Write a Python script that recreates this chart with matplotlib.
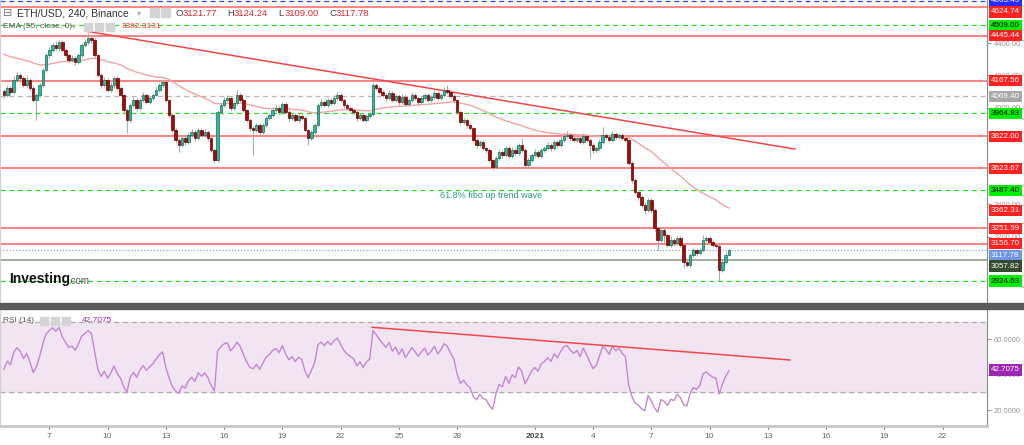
import numpy as np
import matplotlib
matplotlib.use('Agg')
import matplotlib.pyplot as plt
from matplotlib.patches import Rectangle
from matplotlib.transforms import blended_transform_factory

plt.rcParams['font.family'] = ['Liberation Sans', 'DejaVu Sans']

W, H = 1024, 445

# ---- data: ETH/USD 4h candles, day 0 = Dec 7, first candle Dec 4 16:00 ----
first_day = -2 - 2 / 6
first_open = 4100
closes = [
    4078, 4121, 4097, 4171, 4202, 4183, 4140, 4171, 4121, 4047,
    4078, 4140, 4233, 4326, 4357, 4388, 4369, 4407, 4357, 4326,
    4295, 4307, 4283, 4326, 4388, 4407, 4431, 4419, 4326, 4202,
    4140, 4171, 4109, 4140, 4183, 4121, 4078, 3985, 3923, 4016,
    4047, 3997, 4047, 4078, 4035, 4059, 4078, 4109, 4140, 4159,
    4047, 3954, 3861, 3799, 3768, 3811, 3787, 3830, 3849, 3811,
    3861, 3830, 3849, 3811, 3737, 3675, 3973, 4016, 4047, 4059,
    3997, 4028, 4078, 4047, 3985, 3923, 3873, 3861, 3892, 3849,
    3892, 3935, 3954, 3985, 3997, 3973, 4022, 3973, 3935, 3954,
    3923, 3948, 3935, 3861, 3811, 3849, 3892, 4016, 4035, 4016,
    4047, 4028, 4059, 4078, 4047, 4016, 3997, 3985, 3973, 3935,
    3954, 3923, 3948, 3960, 4140, 4121, 4097, 4078, 4059, 4090,
    4047, 4072, 4035, 4066, 4022, 4047, 4078, 4059, 4035, 4059,
    4078, 4047, 4066, 4090, 4059, 4078, 4109, 4097, 4072, 4047,
    3973, 3911, 3923, 3892, 3873, 3799, 3768, 3787, 3749, 3737,
    3675, 3632, 3687, 3725, 3706, 3749, 3700, 3737, 3718, 3768,
    3737, 3644, 3675, 3706, 3725, 3700, 3737, 3749, 3768, 3749,
    3787, 3768, 3799, 3824, 3830, 3811, 3799, 3811, 3787, 3824,
    3799, 3768, 3737, 3749, 3787, 3830, 3818, 3799, 3836, 3818,
    3830, 3811, 3799, 3656, 3551, 3477, 3446, 3396, 3365, 3427,
    3365, 3253, 3179, 3241, 3210, 3148, 3179, 3160, 3191, 3148,
    3043, 3024, 3086, 3117, 3098, 3117, 3179, 3191, 3167, 3148,
    3142, 2993, 3043, 3086, 3117.78,
]
wick_up = [
    15, 20, 12, 25, 18, 10, 15, 22, 10, 12,
    15, 10, 12, 15, 20, 18, 25, 12, 15, 10,
    12, 18, 15, 10, 15, 20, 31, 15, 10, 8,
    12, 18, 10, 20, 15, 12, 10, 8, 10, 15,
    20, 12, 15, 18, 10, 15, 12, 18, 15, 12,
    10, 8, 12, 10, 15, 12, 18, 15, 20, 10,
    15, 12, 18, 10, 8, 10, 12, 15, 18, 20,
    10, 15, 31, 12, 10, 8, 12, 10, 15, 12,
    10, 15, 12, 18, 20, 10, 15, 10, 12, 15,
    10, 12, 15, 10, 8, 12, 10, 15, 18, 12,
    15, 12, 18, 20, 10, 12, 10, 8, 12, 10,
    12, 10, 15, 12, 10, 15, 12, 10, 15, 18,
    12, 15, 10, 18, 12, 15, 20, 12, 10, 15,
    12, 10, 15, 18, 12, 15, 20, 31, 12, 10,
    8, 10, 15, 12, 10, 8, 12, 15, 10, 12,
    10, 8, 15, 20, 12, 15, 10, 18, 12, 15,
    43, 10, 12, 15, 18, 10, 15, 12, 18, 12,
    15, 12, 18, 20, 25, 12, 10, 15, 12, 18,
    12, 10, 15, 12, 18, 50, 15, 12, 20, 15,
    12, 15, 10, 8, 10, 12, 15, 12, 18, 15,
    12, 10, 15, 18, 12, 10, 25, 15, 12, 10,
    8, 12, 15, 10, 12, 15, 30, 15, 12, 10,
    12, 10, 15, 18, 6,
]
wick_dn = [
    18, 12, 20, 15, 10, 22, 15, 12, 20, 15,
    124, 12, 10, 15, 18, 12, 15, 20, 10, 15,
    18, 12, 20, 15, 10, 12, 15, 18, 12, 15,
    20, 12, 15, 10, 18, 12, 15, 20, 81, 12,
    15, 20, 12, 10, 15, 12, 10, 8, 12, 10,
    12, 15, 10, 18, 43, 15, 20, 12, 15, 18,
    12, 15, 10, 18, 15, 19, 12, 10, 15, 12,
    18, 12, 10, 15, 12, 15, 18, 155, 12, 20,
    15, 10, 12, 15, 10, 18, 12, 15, 20, 12,
    15, 18, 12, 15, 43, 12, 15, 10, 12, 15,
    12, 15, 10, 12, 15, 18, 12, 15, 12, 18,
    15, 12, 10, 15, 12, 10, 15, 12, 18, 10,
    15, 12, 18, 10, 15, 12, 10, 15, 18, 12,
    10, 15, 12, 10, 15, 12, 10, 12, 15, 18,
    12, 15, 10, 18, 12, 15, 20, 12, 15, 18,
    15, 19, 12, 15, 18, 10, 15, 12, 15, 10,
    12, 15, 18, 10, 12, 15, 10, 12, 15, 18,
    12, 15, 10, 12, 15, 18, 12, 10, 15, 12,
    15, 81, 18, 12, 15, 10, 12, 15, 10, 12,
    15, 12, 10, 15, 18, 12, 20, 15, 25, 12,
    18, 20, 62, 15, 60, 12, 15, 18, 12, 15,
    38, 15, 12, 15, 18, 12, 10, 12, 15, 12,
    15, 68, 12, 10, 8,
]
ema_start = 4340
ema_last = 3362.31
rsi_last = 42.7075

tick_days = [0, 3, 6, 9, 12, 15, 18, 21, 25, 28, 31, 34, 37, 40, 43, 46]
tick_labels = ['7', '10', '13', '16', '19', '22', '25', '28', '2021',
               '4', '7', '10', '13', '16', '19', '22']
price_ticks = [3200, 3400, 4000, 4200, 4400]
rsi_ticks = [20, 40, 60]

levels = [4663.49, 4624.74, 4509.00, 4445.44, 4167.56, 4069.40, 3964.83, 3822.00,
          3623.67, 3487.40, 3251.59, 3156.70, 3117.78, 3057.82, 2924.63]
level_kinds = ['blue', 'red', 'green', 'red', 'red', 'gray', 'green', 'red',
               'red', 'green', 'red', 'red', 'price', 'olive', 'green']

trend_days = [1.99, 38.4]
trend_prices = [4472, 3743]
rsi_trend_days = [16.62, 38.14]
rsi_trend_vals = [66.8, 48.3]
fibo_day, fibo_price = 20.1, 3452

# ---- derived series ----
n = len(closes)
x = first_day + np.arange(n) / 6
c = np.array(closes, dtype=float)
o = np.array([first_open] + closes[:-1], dtype=float)
hi = np.maximum(o, c) + np.array(wick_up)
lo = np.minimum(o, c) - np.array(wick_dn)

ema = []
e = ema_start
for cl in closes:
    e += 2 / 56 * (cl - e)
    ema.append(e)

rsi = []
g, l, prev = 18.0, 22.0, first_open
for cl in closes:
    d = cl - prev
    g = (g * 13 + max(d, 0)) / 14
    l = (l * 13 + max(-d, 0)) / 14
    rsi.append(100 - 100 / (1 + g / l))
    prev = cl

# ---- layout helpers ----
def fx(px):
    return px / W

def fy(py):
    return 1 - py / H

XLIM = (-2.54, 48.29)
PTOP, PPX = 4667.05, 6.2          # price at top pixel, price per pixel
MAIN_BOTTOM = 302

fig = plt.figure(figsize=(W / 100, H / 100), dpi=100)
fig.patch.set_facecolor('white')

ax = fig.add_axes([0, fy(MAIN_BOTTOM), fx(987), MAIN_BOTTOM / H])
ax.set_xlim(*XLIM)
ax.set_ylim(PTOP - PPX * MAIN_BOTTOM, PTOP)

line_style = {
    'red': dict(color='#ff6060', lw=1.1, ls='-'),
    'green': dict(color='#22dd22', lw=0.9, ls=(0, (4, 3))),
    'gray': dict(color='#b8b8b8', lw=0.9, ls=(0, (4, 3))),
    'blue': dict(color='#3344ff', lw=0.9, ls=(0, (4, 3))),
    'price': dict(color='#8aa2ea', lw=0.9, ls=(0, (1, 1.5))),
    'olive': dict(color='#9fae98', lw=1.4, ls='-'),
}
box_style = {
    'red': ('#ff2020', 'white'),
    'green': ('#00f000', 'black'),
    'gray': ('#a9a9a9', 'white'),
    'blue': ('#2a2aff', 'white'),
    'price': ('#6f95e6', 'white'),
    'olive': ('#354b30', 'white'),
}
label_shift_px = {4624.74: 5, 3117.78: 6, 3057.82: 6.5}

for lv, kind in zip(levels, level_kinds):
    ax.axhline(lv, zorder=1, **line_style[kind])

# trend line and EMA
ax.plot(trend_days, trend_prices, color='#f04848', lw=1.1, zorder=2)
ax.plot(x, ema, color='#f5a3a3', lw=1.0, zorder=2)

# candles
up = c >= o
body = np.maximum(np.abs(c - o), 4)
ax.vlines(x, lo, hi, color='#9db3a3', lw=0.8, zorder=3)
ax.bar(x[up], body[up], bottom=o[up], width=0.13, color='#2ab8a8',
       edgecolor='#1d6b4c', lw=0.5, zorder=4)
ax.bar(x[~up], body[~up], bottom=c[~up], width=0.13, color='#a00c0c',
       edgecolor='#6e0000', lw=0.5, zorder=4)

ax.text(fibo_day, fibo_price, '61.8% fibo up trend wave', color='#2a9d80',
        fontsize=6.5, ha='left', va='center', zorder=5)

# right axis
ax.yaxis.tick_right()
ax.set_yticks(price_ticks)
ax.set_yticklabels(['%.2f' % v for v in price_ticks])
ax.tick_params(axis='y', labelsize=5.5, colors='#999999', length=3, pad=2)
ax.set_xticks([])
for s in ['top', 'bottom']:
    ax.spines[s].set_visible(False)
ax.spines['right'].set_color('#8a8a8a')
ax.spines['left'].set_color('#d0d0d0')

trans = blended_transform_factory(ax.transAxes, ax.transData)

def right_label(axis, tr, yv, txt, fc, tc):
    axis.text(1.004, yv, txt, transform=tr, fontsize=5.8, color=tc, ha='left',
              va='center', clip_on=False, zorder=10,
              bbox=dict(boxstyle='square,pad=0.28', fc=fc, ec='none'))

for lv, kind in zip(levels, level_kinds):
    fc, tc = box_style[kind]
    yv = lv - label_shift_px.get(lv, 0) * PPX
    right_label(ax, trans, yv, '%.2f' % lv, fc, tc)
right_label(ax, trans, ema_last, '%.2f' % ema_last, '#ff2020', 'white')

# ---- RSI panel ----
rax = fig.add_axes([0, fy(426), fx(987), 117 / H])
rax.set_xlim(*XLIM)
rax.set_ylim(10.95, 77.14)
rax.axhspan(30, 70, color='#f2e5f2', zorder=0)
rax.axhline(70, color='#aaaaaa', lw=0.9, ls=(0, (4, 3)))
rax.axhline(30, color='#aaaaaa', lw=0.9, ls=(0, (4, 3)))
rax.plot(x, rsi, color='#c585d3', lw=1.0, zorder=3)
rax.plot(rsi_trend_days, rsi_trend_vals, color='#f04848', lw=1.1, zorder=4)

rax.yaxis.tick_right()
rax.set_yticks(rsi_ticks)
rax.set_yticklabels(['%.4f' % v for v in rsi_ticks])
rax.tick_params(axis='y', labelsize=5.5, colors='#999999', length=3, pad=2)
rax.set_xticks(tick_days)
rax.set_xticklabels(tick_labels)
rax.tick_params(axis='x', labelsize=6, colors='#666666', length=2, pad=3)
rax.get_xticklabels()[8].set_fontweight('bold')
rax.get_xticklabels()[8].set_color('#444444')
rax.spines['top'].set_visible(False)
rax.spines['right'].set_color('#8a8a8a')
rax.spines['left'].set_color('#d0d0d0')
rax.spines['bottom'].set_color('#c8c8c8')
rax.spines['bottom'].set_linewidth(2)
rtrans = blended_transform_factory(rax.transAxes, rax.transData)
right_label(rax, rtrans, rsi_last, '%.4f' % rsi_last, '#9c27b0', 'white')

# separator band
fig.add_artist(Rectangle((0, fy(309)), 1, 6 / H, transform=fig.transFigure,
                         color='#5a5a5a', zorder=5))

# ---- header texts ----
def icon(px, py, size=9):
    fig.add_artist(Rectangle((fx(px), fy(py + size)), size / W, size / H,
                             transform=fig.transFigure, color='#d4d4d4', zorder=6))

fig.text(fx(3), fy(13), '⊟', fontsize=8, color='#777777', va='center',
         family='DejaVu Sans', zorder=7)
fig.text(fx(17), fy(13), 'ETH/USD, 240, Binance', fontsize=7.5, color='#333333',
         va='center', zorder=7)
fig.text(fx(137), fy(13), '▾', fontsize=6, color='#aaaaaa', va='center',
         family='DejaVu Sans', zorder=7)
icon(150, 8)
icon(161, 8)
ohlc = [('O', '3121.77'), ('H', '3124.24'), ('L', '3109.00'), ('C', '3117.78')]
for k, (lab, val) in enumerate(ohlc):
    x0 = 176 + 51 * k
    fig.text(fx(x0), fy(13), lab, fontsize=6.8, color='#444444', va='center', zorder=7)
    fig.text(fx(x0 + 7), fy(13), val, fontsize=6.8, color='#e02828', va='center', zorder=7)

fig.text(fx(3), fy(27), 'EMA (55, close, 0)', fontsize=6, color='#555555',
         va='center', zorder=7)
fig.text(fx(72), fy(27), '▾', fontsize=5, color='#aaaaaa', va='center',
         family='DejaVu Sans', zorder=7)
icon(84, 23, 8)
icon(95, 23, 8)
icon(106, 23, 8)
fig.text(fx(122), fy(27), '3362.3131', fontsize=6, color='#ff3030', va='center', zorder=7)

fig.text(fx(3), fy(321), 'RSI (14)', fontsize=6, color='#555555', va='center', zorder=7)
icon(40, 317, 8)
icon(51, 317, 8)
icon(62, 317, 8)
fig.text(fx(82), fy(321), '42.7075', fontsize=6, color='#9c27b0', va='center', zorder=7)

fig.text(fx(9), fy(279), 'Investing', fontsize=10, fontweight='bold', color='#111111',
         va='center', zorder=7)
fig.text(fx(68), fy(281), '.com', fontsize=7, color='#555555', va='center', zorder=7)

fig.savefig('out.png', dpi=100)
